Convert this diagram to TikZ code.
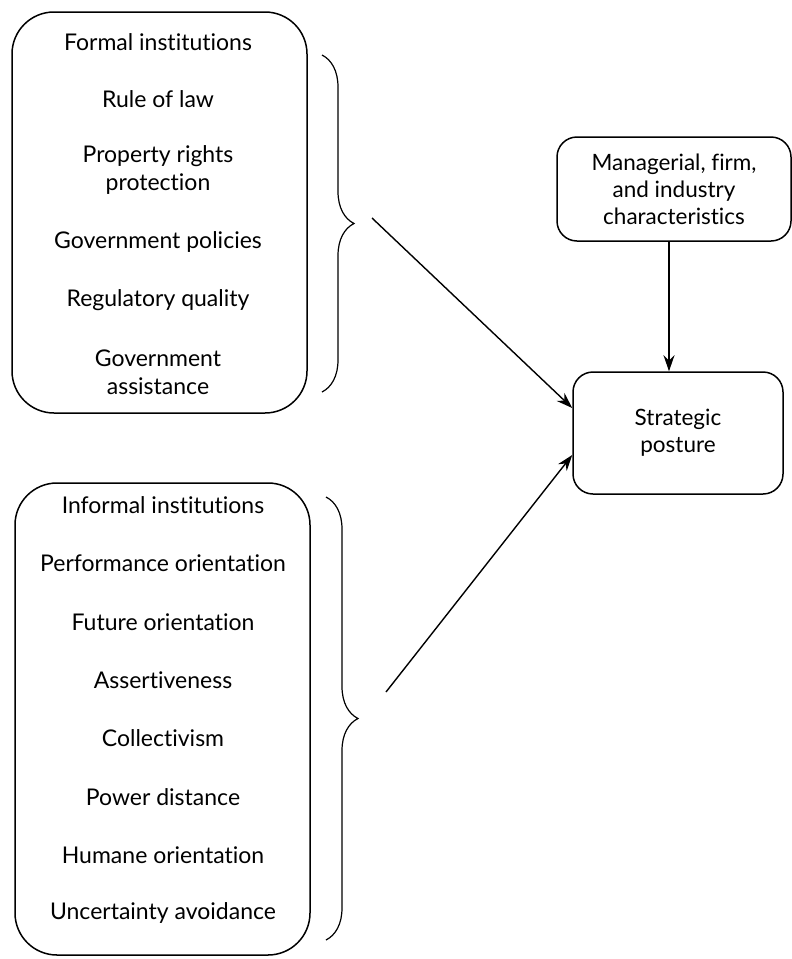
\documentclass[tikz,border=0pt]{standalone}
\usepackage{fontspec}
\setmainfont{Lato}[Ligatures=NoCommon]
\usetikzlibrary{arrows.meta,decorations.pathreplacing}

\tikzset{
  item/.style={font=\fontsize{23pt}{28pt}\selectfont, align=center, inner sep=0pt},
  listbox/.style={draw, line width=1.5pt, rounded corners=42pt, inner sep=0pt},
  smallbox/.style={draw, line width=1.5pt, rounded corners=20pt, inner sep=0pt,
    font=\fontsize{22.5pt}{27pt}\selectfont, align=center},
  brace/.style={decorate, decoration={brace, amplitude=32pt, aspect=0.5}, line width=1.2pt},
  arr/.style={-{Stealth[length=16pt, width=11pt]}, line width=1.4pt}
}

\begin{document}
\begin{tikzpicture}[x=1pt, y=-1pt]
    \useasboundingbox (0,0) rectangle (792,959);

    % フォーマルな制度の箱
    \node[listbox, minimum width=295pt, minimum height=401pt] (formal) at (159.5,212.5) {};
    \node[item] (f1) at (158,42) {Formal institutions};
    \node[item] (f2) at (158,99) {Rule of law};
    \node[item] (f3) at (158,170) {Property rights\\protection};
    \node[item] (f4) at (158,242) {Government policies};
    \node[item] (f5) at (158,300) {Regulatory quality};
    \node[item] (f6) at (158,372) {Government\\assistance};

    % インフォーマルな制度の箱
    \node[listbox, minimum width=295pt, minimum height=472pt] (informal) at (162.5,719) {};
    \node[item] (i1) at (163,505) {Informal institutions};
    \node[item] (i2) at (163,563) {Performance orientation};
    \node[item] (i3) at (163,622) {Future orientation};
    \node[item] (i4) at (163,680) {Assertiveness};
    \node[item] (i5) at (163,738) {Collectivism};
    \node[item] (i6) at (163,797) {Power distance};
    \node[item] (i7) at (163,855) {Humane orientation};
    \node[item] (i8) at (163,913) {Uncertainty avoidance};

    % 右側の箱
    \node[smallbox, minimum width=234pt, minimum height=104pt] (managerial) at (674,189)
      {Managerial, firm,\\and industry\\characteristics};
    \node[smallbox, minimum width=210pt, minimum height=122pt] (strategic) at (678,433)
      {Strategic\\posture};

    % 中括弧の描画
    \draw[brace] (322,55) -- (322,392);
    \draw[brace] (326,497) -- (326,940);

    % 矢印の描画
    \coordinate (ftail) at (372,218);
    \coordinate (itail) at (386,692);
    \coordinate (fhead) at ([yshift=25pt]strategic.west);
    \coordinate (ihead) at ([yshift=-22pt]strategic.west);
    \draw[arr] (ftail) -- (fhead);
    \draw[arr] (itail) -- (ihead);
    \draw[arr] ([xshift=-5pt]managerial.south) -- ([xshift=-5pt]managerial.south |- strategic.north);

\end{tikzpicture}
\end{document}
